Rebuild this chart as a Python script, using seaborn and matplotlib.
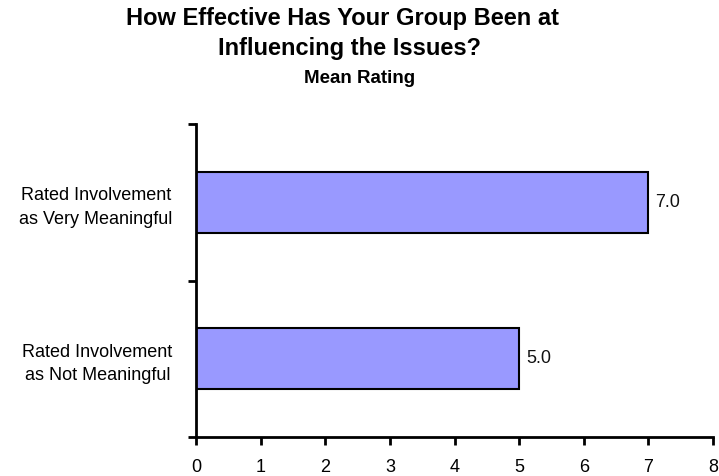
import matplotlib
matplotlib.use("Agg")
import matplotlib.pyplot as plt
import seaborn as sns
import pandas as pd

categories = ["Rated Involvement\nas Very Meaningful", "Rated Involvement\nas Not Meaningful"]
values = [7.0, 5.0]
x_ticks = [0, 1, 2, 3, 4, 5, 6, 7, 8]

sns.set_style("white")
plt.rcParams['font.family'] = ['Liberation Sans', 'DejaVu Sans']
plt.rcParams['text.color'] = 'black'

df = pd.DataFrame({"cat": categories, "val": values})

fig = plt.figure(figsize=(7.19, 4.76), dpi=100)
ax = fig.add_axes([196/719, 1-437/476, (713-196)/719, (437-124)/476])

sns.barplot(data=df, x="val", y="cat", orient="h", color="#9999FF",
            edgecolor="black", linewidth=1.5, width=0.39, saturation=1, ax=ax)

ax.set_xlim(0, 8)
ax.set_ylim(1.5, -0.5)
ax.set_xticks(x_ticks)
ax.set_xticklabels([str(t) for t in x_ticks], fontsize=13, color="black")
ax.set_xlabel("")
ax.set_ylabel("")
ax.set_yticks([0, 1])
ax.set_yticklabels(categories, fontsize=13, multialignment="center", linespacing=1.5, color="black")
ax.set_yticks([-0.5, 0.5, 1.5], minor=True)
ax.tick_params(axis="y", which="major", left=True, length=0, pad=17)
ax.tick_params(axis="y", which="minor", left=True, length=6, width=2, color="black", direction="out")
ax.tick_params(axis="x", which="major", bottom=True, length=6, width=2, color="black", direction="out", pad=10)

for s in ["top", "right"]:
    ax.spines[s].set_visible(False)
for s in ["left", "bottom"]:
    ax.spines[s].set_color("black")
    ax.spines[s].set_linewidth(2)

for i, v in enumerate(values):
    ax.text(v + 0.11, i, f"{v:.1f}", va="center", ha="left", fontsize=13, color="#111111")

fig.text(342/719, 1-25/476, "How Effective Has Your Group Been at", ha="center", va="baseline",
         fontsize=17, fontweight="bold", color="black")
fig.text(350/719, 1-55/476, "Influencing the Issues?", ha="center", va="baseline",
         fontsize=17, fontweight="bold", color="black")
fig.text(360/719, 1-83/476, "Mean Rating", ha="center", va="baseline",
         fontsize=13.5, fontweight="bold", color="black")

fig.savefig("out.png", dpi=100)
